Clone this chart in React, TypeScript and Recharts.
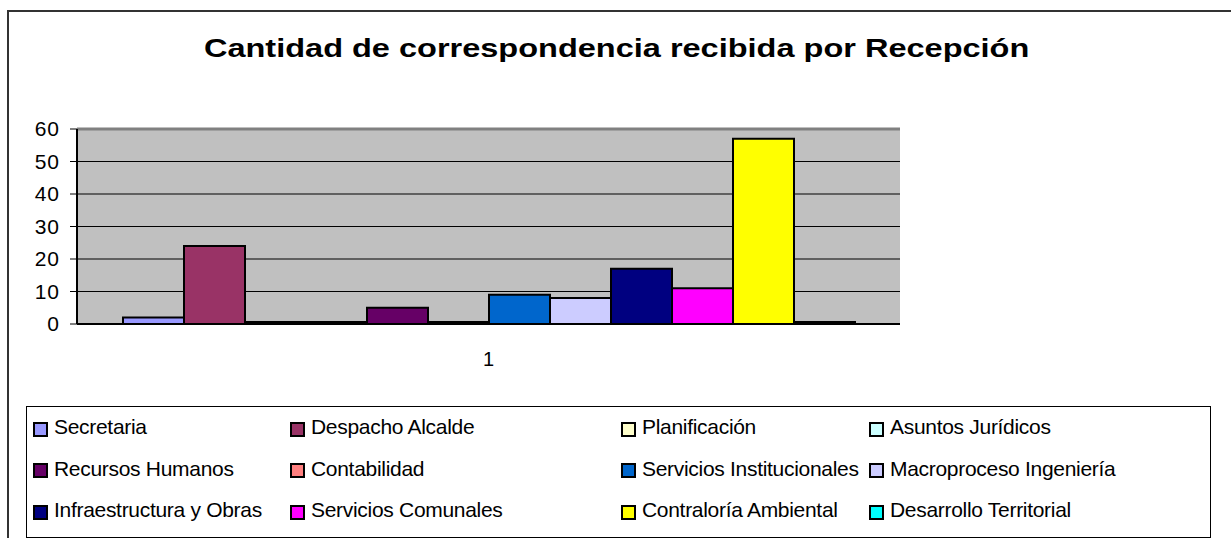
import React from "react";
import { Bar, BarChart, CartesianGrid, ReferenceLine, XAxis, YAxis } from "recharts";

const categories = ["1"];

const seriesNames = [
  "Secretaria",
  "Despacho Alcalde",
  "Planificación",
  "Asuntos Jurídicos",
  "Recursos Humanos",
  "Contabilidad",
  "Servicios Institucionales",
  "Macroproceso Ingeniería",
  "Infraestructura y Obras",
  "Servicios Comunales",
  "Contraloría Ambiental",
  "Desarrollo Territorial",
];

const seriesValues = [2, 24, 0, 0, 5, 0, 9, 8, 17, 11, 57, 0];

const seriesColors = [
  "#9999FF",
  "#993366",
  "#FFFFCC",
  "#CCFFFF",
  "#660066",
  "#FF8080",
  "#0066CC",
  "#CCCCFF",
  "#000080",
  "#FF00FF",
  "#FFFF00",
  "#00FFFF",
];

const yTicks = [0, 10, 20, 30, 40, 50, 60];

// legend column lefts (excel lays them out unevenly)
const legendCols = [33, 290, 621, 869];
const legendRows = [415, 456.5, 498];

const data = categories.map((name) => {
  const row: Record<string, string | number> = { name };
  seriesNames.forEach((s, i) => {
    row["s" + i] = seriesValues[i];
  });
  return row;
});

const font = "'Liberation Sans', Arial, sans-serif";

export default function App() {
  return (
    <div
      style={{
        position: "fixed",
        left: 0,
        top: 0,
        width: 1231,
        height: 538,
        overflow: "hidden",
        background: "#fff",
        fontFamily: font,
      }}
    >
      <div
        style={{
          position: "absolute",
          left: 7,
          top: 10,
          width: 1260,
          height: 600,
          border: "2px solid #333",
        }}
      />
      <div
        style={{
          position: "absolute",
          left: 0,
          top: 33,
          width: 1233,
          textAlign: "center",
          fontSize: 26,
          fontWeight: "bold",
          color: "#000",
          transform: "scaleX(1.25)",
          transformOrigin: "616px 0",
        }}
      >
        Cantidad de correspondencia recibida por Recepción
      </div>

      <div style={{ position: "absolute", left: 0, top: 0 }}>
        <BarChart
          width={1231}
          height={538}
          data={data}
          margin={{ top: 129, right: 331, left: 0, bottom: 174 }}
          barCategoryGap={46}
          barGap={0}
          style={{ fontFamily: font }}
        >
          <CartesianGrid vertical={false} stroke="#000" fill="#C0C0C0" fillOpacity={1} />
          <XAxis
            dataKey="name"
            height={40}
            axisLine={{ stroke: "#000", strokeWidth: 2 }}
            tickLine={false}
            tickMargin={22}
            tick={{ fontSize: 20, fill: "#000" }}
          />
          <YAxis
            width={77}
            domain={[0, 60]}
            ticks={yTicks}
            interval={0}
            axisLine={{ stroke: "#000", strokeWidth: 2 }}
            tickLine={{ stroke: "#000" }}
            tickSize={7}
            tickMargin={10}
            tick={{ fontSize: 21, fill: "#000", letterSpacing: 1 }}
          />
          <YAxis
            yAxisId="r"
            orientation="right"
            width={0}
            domain={[0, 60]}
            tick={false}
            tickLine={false}
            axisLine={{ stroke: "#808080", strokeWidth: 3 }}
          />
          <ReferenceLine y={60} stroke="#808080" strokeWidth={3} />
          {seriesNames.map((s, i) => (
            <Bar
              key={s}
              dataKey={"s" + i}
              name={s}
              fill={seriesColors[i]}
              stroke="#000"
              strokeWidth={2}
              minPointSize={2}
              isAnimationActive={false}
            />
          ))}
        </BarChart>
      </div>

      <div
        style={{
          position: "absolute",
          left: 26,
          top: 406,
          width: 1183,
          height: 130,
          border: "1px solid #000",
        }}
      />
      {seriesNames.map((s, i) => {
        const col = i % 4;
        const row = Math.floor(i / 4);
        return (
          <div
            key={s}
            style={{
              position: "absolute",
              left: legendCols[col],
              top: legendRows[row],
              display: "flex",
              alignItems: "center",
              fontSize: 21,
              letterSpacing: -0.3,
              color: "#000",
              whiteSpace: "nowrap",
            }}
          >
            <span
              style={{
                display: "inline-block",
                width: 11,
                height: 11,
                border: "2px solid #000",
                background: seriesColors[i],
                marginRight: 6,
                marginTop: 4,
              }}
            />
            {s}
          </div>
        );
      })}
    </div>
  );
}
